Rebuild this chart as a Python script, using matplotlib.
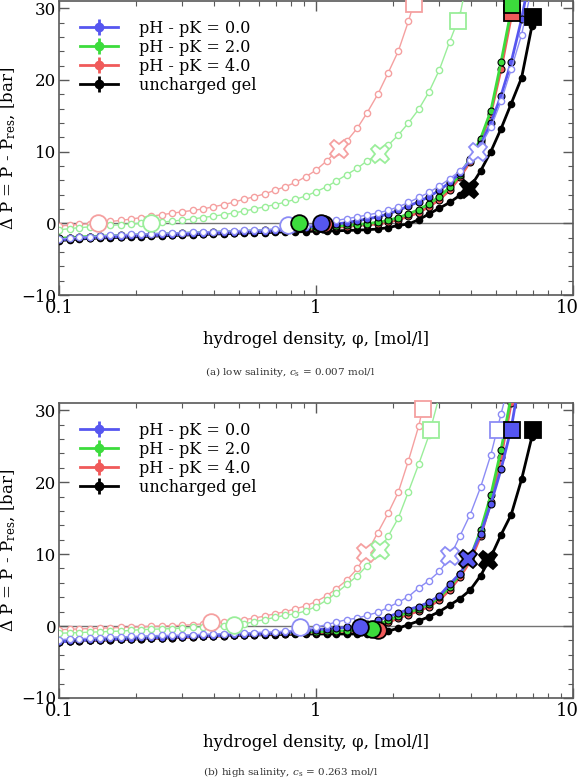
import matplotlib
matplotlib.use('Agg')
import matplotlib.pyplot as plt
import matplotlib.transforms as mtransforms
import numpy as np

plt.rcParams['font.family'] = 'DejaVu Serif'
plt.rcParams['mathtext.fontset'] = 'dejavuserif'

# hydrogel density grid [mol/l]
phi = [0.100, 0.110, 0.120, 0.132, 0.145, 0.158, 0.174, 0.191, 0.209, 0.229,
       0.251, 0.275, 0.302, 0.331, 0.363, 0.398, 0.437, 0.479, 0.525, 0.575,
       0.631, 0.692, 0.759, 0.832, 0.912, 1.00, 1.10, 1.20, 1.32, 1.45,
       1.58, 1.74, 1.91, 2.09, 2.29, 2.51, 2.75, 3.02, 3.31, 3.63,
       3.98, 4.37, 4.79, 5.25, 5.75, 6.31, 6.92]

labels = ['pH - pK = 0.0', 'pH - pK = 2.0', 'pH - pK = 4.0', 'uncharged gel']

# ---- (a) low salinity ----
a_red_faint = [-0.4, -0.25, -0.15, -0.05, 0.1, 0.25, 0.4, 0.6, 0.8, 1.0,
               1.2, 1.4, 1.6, 1.8, 2.0, 2.3, 2.6, 2.95, 3.35, 3.7,
               4.1, 4.6, 5.1, 5.7, 6.5, 7.4, 8.7, 10.0, 11.5, 13.3,
               15.4, 18.0, 21.0, 24.0, 28.2, 33.0]
a_green_faint = [-0.9, -0.75, -0.6, -0.5, -0.4, -0.3, -0.2, -0.1, 0.0, 0.05,
                 0.15, 0.3, 0.45, 0.6, 0.8, 1.0, 1.2, 1.45, 1.7, 2.0,
                 2.3, 2.6, 2.95, 3.35, 3.8, 4.4, 5.1, 5.9, 6.8, 7.7,
                 8.7, 9.5, 10.9, 12.3, 14.0, 15.9, 18.3, 21.4, 25.3, 29.0, 36.0]
a_blue_faint = [-2.2, -2.05, -1.95, -1.85, -1.75, -1.7, -1.6, -1.55, -1.5, -1.45,
                -1.4, -1.35, -1.3, -1.25, -1.2, -1.15, -1.1, -1.05, -1.0, -0.95,
                -0.9, -0.8, -0.7, -0.55, -0.35, -0.1, 0.15, 0.4, 0.65, 0.9,
                1.15, 1.45, 1.8, 2.3, 2.9, 3.6, 4.3, 5.2, 6.2, 7.3,
                8.8, 10.8, 13.4, 17.0, 21.5, 26.3, 33.0]
a_blue = [-2.3, -2.2, -2.1, -2.0, -1.95, -1.9, -1.85, -1.8, -1.75, -1.7,
          -1.65, -1.6, -1.55, -1.5, -1.45, -1.4, -1.35, -1.3, -1.25, -1.2,
          -1.15, -1.05, -0.95, -0.8, -0.6, -0.4, -0.25, -0.1, 0.1, 0.35,
          0.6, 0.9, 1.3, 1.8, 2.4, 3.0, 3.7, 4.6, 5.7, 7.0,
          8.8, 11.0, 14.0, 17.8, 22.5, 28.5, 36.0]
a_green = [-2.1, -2.0, -1.9, -1.85, -1.8, -1.75, -1.7, -1.65, -1.6, -1.55,
           -1.5, -1.45, -1.4, -1.35, -1.3, -1.25, -1.2, -1.15, -1.1, -1.05,
           -1.0, -0.95, -0.9, -0.8, -0.7, -0.6, -0.5, -0.4, -0.3, -0.2,
           -0.05, 0.15, 0.4, 0.8, 1.3, 1.9, 2.7, 3.7, 5.0, 6.8,
           9.0, 11.8, 15.7, 22.5, 29.8]
a_red = [-2.2, -2.1, -2.0, -1.95, -1.9, -1.85, -1.8, -1.75, -1.7, -1.65,
         -1.6, -1.55, -1.5, -1.45, -1.4, -1.35, -1.3, -1.25, -1.2, -1.15,
         -1.1, -1.05, -1.0, -0.95, -0.85, -0.75, -0.65, -0.55, -0.45, -0.3,
         -0.2, -0.1, 0.15, 0.5, 0.95, 1.5, 2.3, 3.3, 4.6, 6.4,
         8.6, 11.5, 15.3, 21.5, 28.8]
a_black = [-2.4, -2.3, -2.2, -2.1, -2.05, -2.0, -1.95, -1.9, -1.85, -1.8,
           -1.75, -1.7, -1.65, -1.6, -1.55, -1.5, -1.45, -1.4, -1.35, -1.3,
           -1.3, -1.25, -1.2, -1.2, -1.15, -1.1, -1.1, -1.05, -1.0, -0.95,
           -0.9, -0.8, -0.6, -0.3, -0.1, 0.5, 1.3, 2.1, 2.9, 3.9,
           5.0, 7.3, 10.0, 13.2, 16.7, 20.3, 27.5]

# big markers: (circle, cross, square), None if not visible
a_red_faint_big = [(0.142, 0.0), (1.23, 10.3), (2.40, 30.6)]
a_green_faint_big = [(0.229, 0.0), (1.78, 9.6), (3.57, 28.2)]
a_blue_faint_big = [(0.78, -0.2), (4.27, 10.0), None]
a_red_big = [(1.07, -0.1), None, (5.78, 29.3)]
a_green_big = [(0.86, 0.1), None, (5.78, 30.4)]
a_blue_big = [(1.05, 0.0), None, None]
a_black_big = [None, (3.95, 4.8), (7.0, 28.8)]

# ---- (b) high salinity ----
b_red_faint = [-0.5, -0.45, -0.4, -0.35, -0.3, -0.25, -0.2, -0.15, -0.1, -0.05,
               0.0, 0.05, 0.1, 0.2, 0.3, 0.45, 0.55, 0.7, 0.9, 1.1,
               1.4, 1.7, 2.0, 2.4, 2.8, 3.4, 4.2, 5.2, 6.4, 8.0,
               10.2, 13.0, 15.7, 18.6, 23.0, 27.8, 34.0]
b_green_faint = [-1.0, -0.95, -0.9, -0.85, -0.8, -0.75, -0.7, -0.6, -0.5, -0.45,
                 -0.4, -0.35, -0.3, -0.2, -0.15, -0.1, 0.0, 0.1, 0.3, 0.6,
                 0.9, 1.2, 1.5, 1.7, 2.1, 2.7, 3.6, 4.6, 5.8, 7.0,
                 8.4, 10.1, 12.5, 15.0, 18.7, 22.5, 26.5, 32.0]
b_blue_faint = [-1.9, -1.8, -1.75, -1.7, -1.6, -1.55, -1.5, -1.45, -1.4, -1.35,
                -1.3, -1.3, -1.25, -1.2, -1.15, -1.1, -1.05, -1.0, -0.95, -0.9,
                -0.85, -0.8, -0.7, -0.6, -0.4, -0.15, 0.2, 0.55, 0.9, 1.1,
                1.5, 1.9, 2.6, 3.3, 4.1, 5.3, 6.3, 7.6, 9.5, 12.5,
                15.5, 19.3, 23.8, 29.5, 35.0]
b_blue = [-2.2, -2.1, -2.0, -1.95, -1.9, -1.85, -1.8, -1.75, -1.7, -1.65,
          -1.6, -1.55, -1.5, -1.45, -1.4, -1.35, -1.3, -1.25, -1.2, -1.15,
          -1.1, -1.0, -0.9, -0.8, -0.65, -0.5, -0.4, -0.3, -0.2, -0.1,
          0.3, 0.8, 1.3, 1.8, 2.3, 2.7, 3.3, 4.2, 5.8, 7.3,
          9.6, 12.8, 17.0, 21.8, 27.5, 36.0]
b_green = [-2.1, -2.0, -1.95, -1.9, -1.85, -1.8, -1.75, -1.7, -1.65, -1.6,
           -1.55, -1.5, -1.45, -1.4, -1.35, -1.3, -1.25, -1.2, -1.15, -1.1,
           -1.05, -1.0, -0.95, -0.9, -0.85, -0.8, -0.75, -0.7, -0.65, -0.6,
           -0.3, 0.2, 0.8, 1.4, 1.9, 2.4, 3.0, 4.0, 5.4, 7.2,
           9.5, 13.3, 18.2, 24.5, 32.0]
b_red = [-2.2, -2.1, -2.05, -2.0, -1.95, -1.9, -1.85, -1.8, -1.75, -1.7,
         -1.65, -1.6, -1.55, -1.5, -1.45, -1.4, -1.35, -1.3, -1.25, -1.2,
         -1.15, -1.1, -1.05, -1.0, -0.95, -0.9, -0.85, -0.8, -0.75, -0.7,
         -0.5, -0.1, 0.5, 1.1, 1.6, 2.1, 2.7, 3.6, 5.0, 6.8,
         9.0, 12.5, 17.2, 23.5, 31.0]
b_black = [-2.2, -2.1, -2.05, -2.0, -1.95, -1.9, -1.85, -1.8, -1.75, -1.7,
           -1.65, -1.6, -1.55, -1.5, -1.45, -1.4, -1.35, -1.3, -1.3, -1.25,
           -1.2, -1.2, -1.15, -1.15, -1.1, -1.1, -1.1, -1.1, -1.1, -1.1,
           -1.1, -1.0, -0.7, -0.3, 0.2, 0.7, 1.3, 2.0, 2.9, 3.8,
           5.0, 7.0, 9.6, 12.7, 15.5, 20.4, 26.3]

b_red_faint_big = [(0.39, 0.5), (1.57, 10.2), (2.60, 30.1)]
b_green_faint_big = [(0.48, 0.1), (1.78, 10.6), (2.79, 27.2)]
b_blue_faint_big = [(0.87, -0.1), (3.32, 9.7), (5.12, 27.3)]
b_red_big = [(1.75, -0.6), None, None]
b_green_big = [(1.65, -0.4), None, None]
b_blue_big = [(1.48, -0.1), (3.92, 9.3), (5.77, 27.3)]
b_black_big = [None, (4.68, 9.2), (7.0, 27.3)]

blue = '#5656f0'
green = '#3cdc3c'
red = '#f05a5a'
blue_l = '#8c8cf5'
green_l = '#9aee9a'
red_l = '#f5a0a0'

W, H = 581.0, 781.0
fig = plt.figure(figsize=(5.81, 7.81), dpi=100)
ax1 = fig.add_axes([59/W, 1-295/H, 514/W, 294/H])
ax2 = fig.add_axes([59/W, 1-698/H, 514/W, 295/H])


def draw_big(ax, big, col, face, edge, z):
    for pt, m, s in zip(big, ['o', 'X', 's'], [12, 13, 11]):
        if pt is None:
            continue
        ax.plot([pt[0]], [pt[1]], m, ms=s, mfc=face, mec=edge, mew=1.3,
                zorder=z, clip_on=False)


def draw_panel(ax, rf, gf, bf, r, g, b, k, rfb, gfb, bfb, rb, gb, bb, kb):
    ax.axhline(0, color='0.45', lw=1.0, zorder=1)
    # uncharged gel
    ax.plot(phi[:len(k)], k, '-o', color='k', lw=2, ms=4.5, mfc='k', mec='k', zorder=4)
    draw_big(ax, kb, 'k', 'k', 'k', 9)
    # charged gels, thick
    for y, col, bg in [(r, red, rb), (g, green, gb), (b, blue, bb)]:
        ax.plot(phi[:len(y)], y, '-o', color=col, lw=2, ms=5, mfc=col, mec='k',
                mew=0.8, zorder=5)
        draw_big(ax, bg, col, col, 'k', 9)
    # charged gels, faint
    for y, col, bg in [(rf, red_l, rfb), (gf, green_l, gfb), (bf, blue_l, bfb)]:
        ax.plot(phi[:len(y)], y, '-o', color=col, lw=1, ms=4.5, mfc='white', mec=col,
                mew=1.0, zorder=6)
        draw_big(ax, bg, col, 'white', col, 8)

    ax.set_xscale('log')
    ax.set_xlim(0.1, 10)
    ax.set_ylim(-10, 31)
    ax.set_xticks([0.1, 1, 10])
    ax.set_xticklabels(['0.1', '1', '10'], fontsize=13)
    ax.set_yticks([-10, 0, 10, 20, 30])
    ax.set_yticklabels(['\u221210', '0', '10', '20', '30'], fontsize=12)
    ax.set_yticks(np.arange(-10, 31, 2), minor=True)
    ax.tick_params(which='both', direction='in', top=True, right=True, color='0.35')
    ax.tick_params(which='major', length=7, width=1)
    ax.tick_params(which='minor', length=3.5, width=0.8)
    ax.tick_params(axis='x', pad=3)
    ax.tick_params(axis='y', pad=2)
    # keep the last x label inside the figure
    lab10 = ax.get_xticklabels()[-1]
    lab10.set_transform(lab10.get_transform() +
                        mtransforms.ScaledTranslation(-6/100, 0, fig.dpi_scale_trans))
    for sp in ax.spines.values():
        sp.set_color('0.35')
        sp.set_linewidth(1.2)
    ax.set_xlabel('hydrogel density, \u03c6, [mol/l]', fontsize=12, labelpad=10)
    ax.set_ylabel('\u0394 P = P - P$_{\\rm res}$, [bar]', fontsize=12, labelpad=2)

    hs = []
    for col in [blue, green, red, 'k']:
        h = ax.errorbar([np.nan], [np.nan], yerr=[1.0], fmt='-o', color=col, lw=2,
                        ms=6, mfc=col, mec=col, elinewidth=2, capsize=0)
        hs.append(h)
    ax.legend(hs, labels, loc='upper left', bbox_to_anchor=(0.012, 0.985), frameon=False,
              fontsize=11.5, handlelength=2.4, handletextpad=1.3, labelspacing=0.12,
              borderaxespad=0.5)


draw_panel(ax1, a_red_faint, a_green_faint, a_blue_faint, a_red, a_green, a_blue, a_black,
           a_red_faint_big, a_green_faint_big, a_blue_faint_big,
           a_red_big, a_green_big, a_blue_big, a_black_big)
draw_panel(ax2, b_red_faint, b_green_faint, b_blue_faint, b_red, b_green, b_blue, b_black,
           b_red_faint_big, b_green_faint_big, b_blue_faint_big,
           b_red_big, b_green_big, b_blue_big, b_black_big)

fig.text(0.5, 1-372/H, '(a) low salinity, $c_{\\rm s}$ = 0.007 mol/l', ha='center',
         va='center', fontsize=7.5, color='0.2')
fig.text(0.5, 1-772/H, '(b) high salinity, $c_{\\rm s}$ = 0.263 mol/l', ha='center',
         va='center', fontsize=7.5, color='0.2')

fig.savefig('out.png', dpi=100)
